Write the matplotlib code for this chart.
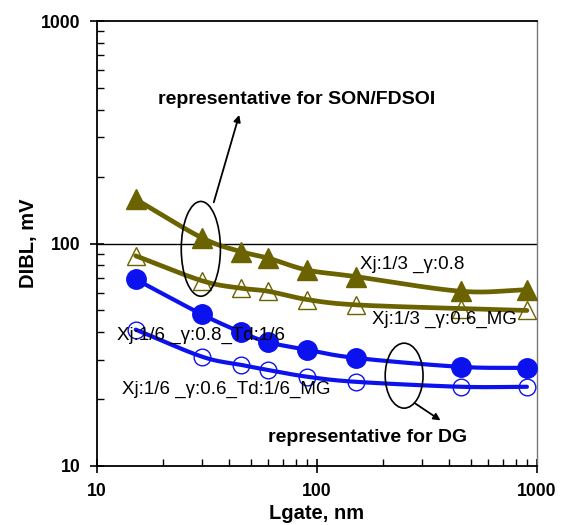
import numpy as np
import matplotlib
matplotlib.use("Agg")
import matplotlib.pyplot as plt
from matplotlib.patches import Ellipse
from matplotlib.ticker import LogLocator, FixedLocator, FixedFormatter, NullFormatter

plt.rcParams['font.family'] = ['Liberation Sans', 'DejaVu Sans']

# Gate length (nm) and DIBL (mV) for four device configurations
lgate = [15, 30, 45, 60, 90, 150, 450, 900]
dibl_xj3_g08 = [158, 106, 92, 86, 76, 71, 61, 62]
dibl_xj3_g06_mg = [88, 68, 63, 61, 56, 53, 51, 50]
dibl_xj6_g08_td6 = [69, 48, 40, 36, 33.3, 30.6, 27.9, 27.6]
dibl_xj6_g06_td6_mg = [41, 31, 28.5, 27, 25.2, 23.9, 22.7, 22.7]

label_xj3_g08 = "Xj:1/3 _\u03b3:0.8"
label_xj3_g06 = "Xj:1/3 _\u03b3:0.6_MG"
label_xj6_g08 = "Xj:1/6 _\u03b3:0.8_Td:1/6"
label_xj6_g06 = "Xj:1/6 _\u03b3:0.6_Td:1/6_MG"

tick_vals = [10, 100, 1000]
tick_text = ["10", "100", "1000"]

OLIVE = '#6b6200'
BLUE = '#0c12ee'


def smooth(x, y, n=30):
    """Catmull-Rom curve through the points in log-log space."""
    lx, ly = np.log10(x), np.log10(y)
    P = np.column_stack([lx, ly])
    P = np.vstack([2 * P[0] - P[1], P, 2 * P[-1] - P[-2]])
    out = []
    for i in range(1, len(P) - 2):
        p0, p1, p2, p3 = P[i - 1], P[i], P[i + 1], P[i + 2]
        t = np.linspace(0, 1, n, endpoint=(i == len(P) - 3))[:, None]
        seg = 0.5 * ((2 * p1) + (-p0 + p2) * t + (2 * p0 - 5 * p1 + 4 * p2 - p3) * t ** 2
                     + (-p0 + 3 * p1 - 3 * p2 + p3) * t ** 3)
        out.append(seg)
    out = np.vstack(out)
    return 10 ** out[:, 0], 10 ** out[:, 1]


fig = plt.figure(figsize=(5.67, 5.25), dpi=100)
ax = fig.add_axes([97 / 567, 1 - 466 / 525, 440 / 567, 445 / 525])
ax.set_xscale('log')
ax.set_yscale('log')
ax.set_xlim(10, 1000)
ax.set_ylim(10, 1000)

# reference line at 100 mV
ax.axhline(100, color='black', lw=1.0, zorder=1)

series = [
    (dibl_xj3_g08, OLIVE, '^', OLIVE, 14, 3.4),
    (dibl_xj3_g06_mg, OLIVE, '^', 'none', 12.5, 3.4),
    (dibl_xj6_g08_td6, BLUE, 'o', BLUE, 14, 3.0),
    (dibl_xj6_g06_td6_mg, BLUE, 'o', 'none', 12, 3.0),
]
for vals, col, mk, face, ms, lw in series:
    sx, sy = smooth(lgate, vals)
    ax.plot(sx, sy, color=col, lw=lw, solid_capstyle='round', zorder=2)
    ax.plot(lgate, vals, linestyle='none', marker=mk, ms=ms, markerfacecolor=face,
            markeredgecolor=col, markeredgewidth=1.0, zorder=3, clip_on=False)

# ticks
for axis in (ax.xaxis, ax.yaxis):
    axis.set_major_locator(FixedLocator(tick_vals))
    axis.set_major_formatter(FixedFormatter(tick_text))
    axis.set_minor_locator(LogLocator(base=10, subs=np.arange(2, 10)))
    axis.set_minor_formatter(NullFormatter())
ax.tick_params(which='major', direction='inout', length=10, width=1.2, pad=7,
               labelsize=12.7)
ax.tick_params(which='minor', direction='in', length=5, width=1.0)
for lab in ax.get_xticklabels() + ax.get_yticklabels():
    lab.set_fontweight('bold')

for side in ('left', 'bottom', 'top'):
    ax.spines[side].set_linewidth(1.3)
    ax.spines[side].set_color('black')
ax.spines['right'].set_color('#777777')
ax.spines['right'].set_linewidth(1.0)

ax.set_xlabel('Lgate, nm', fontsize=14.5, fontweight='bold', labelpad=3)
ax.set_ylabel('DIBL, mV', fontsize=14.5, fontweight='bold', labelpad=2)

# curve labels
lab_kw = dict(transform=ax.transAxes, fontsize=13.5, ha='left', va='center', zorder=4)
ax.text(0.598, 0.452, label_xj3_g08, **lab_kw)
ax.text(0.625, 0.330, label_xj3_g06, **lab_kw)
ax.text(0.0455, 0.294, label_xj6_g08, **lab_kw)
ax.text(0.0568, 0.171, label_xj6_g06, **lab_kw)

# group callouts
ax.add_patch(Ellipse((0.236, 0.488), 0.089, 0.213, transform=ax.transAxes,
                     fill=False, ec='black', lw=1.2, zorder=5))
ax.add_patch(Ellipse((0.698, 0.203), 0.086, 0.146, transform=ax.transAxes,
                     fill=False, ec='black', lw=1.2, zorder=5))
arrow_kw = dict(arrowstyle='-|>', color='black', lw=1.3, mutation_scale=10)
ax.annotate('', xy=(0.325, 0.795), xytext=(0.2636, 0.5865), xycoords='axes fraction',
            textcoords='axes fraction', arrowprops=arrow_kw)
ax.annotate('', xy=(0.786, 0.099), xytext=(0.718, 0.144), xycoords='axes fraction',
            textcoords='axes fraction', arrowprops=arrow_kw)
ax.text(0.4545, 0.8225, 'representative for SON/FDSOI', transform=ax.transAxes,
        fontsize=14, fontweight='bold', ha='center', va='center')
ax.text(0.616, 0.063, 'representative for DG', transform=ax.transAxes,
        fontsize=14, fontweight='bold', ha='center', va='center')

fig.savefig('out.png', dpi=100)
